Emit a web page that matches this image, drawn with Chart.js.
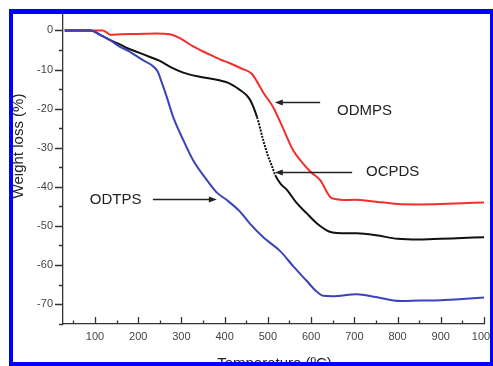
<!DOCTYPE html>
<html>
<head>
<meta charset="utf-8">
<script src="https://cdn.jsdelivr.net/npm/chart.js@4/dist/chart.umd.min.js"></script>
<style>
  html, body { margin: 0; padding: 0; background: #fff; }
  #frame {
    position: absolute; left: 9px; top: 9px;
    width: 477px; height: 348px;
    border-style: solid; border-color: #0000ff;
    border-width: 5px 3px 4px 4px;
    overflow: hidden; background: #fff;
  }
  #chart { position: absolute; left: -13px; top: -14px; }
</style>
</head>
<body>
<div id="frame"><canvas id="chart" width="493" height="366"></canvas></div>
<script>
// temperature (°C) / weight loss (%)
const odmpsT = [30, 60, 90, 118, 128, 135, 160, 200, 240, 273, 300, 327, 360, 389, 412, 440, 462, 470, 490, 512, 535, 558, 581, 600, 621, 644, 660, 674, 700, 750, 800, 850, 900, 950, 1000];
const odmpsW = [0, 0, 0, 0, -0.6, -1.1, -1.0, -0.9, -0.8, -1.0, -2.2, -4.1, -5.9, -7.4, -8.4, -9.8, -11.0, -12.2, -16.0, -19.6, -25.0, -30.6, -34.0, -36.3, -38.3, -42.6, -43.2, -43.4, -43.3, -43.8, -44.4, -44.5, -44.4, -44.2, -44.0];

const ocpdsT = [30, 60, 90, 110, 135, 160, 174, 200, 227, 250, 275, 304, 340, 382, 412, 435, 450, 459, 475, 489, 500, 510, 517, 530, 544, 567, 590, 615, 643, 660, 706, 750, 800, 850, 900, 950, 1000];
const ocpdsW = [0, 0, 0, -1.0, -2.5, -3.7, -4.5, -5.6, -6.8, -7.8, -9.4, -10.8, -11.8, -12.6, -13.6, -15.2, -16.5, -17.8, -22.2, -28.0, -32.0, -34.9, -37.0, -39.3, -40.8, -44.2, -46.8, -49.5, -51.5, -51.8, -51.9, -52.4, -53.3, -53.5, -53.3, -53.1, -52.9];

const odtpsT = [30, 60, 90, 110, 135, 158, 180, 211, 230, 245, 255, 266, 281, 304, 327, 359, 382, 405, 435, 459, 490, 528, 560, 590, 610, 628, 650, 706, 750, 806, 850, 900, 950, 1000];
const odtpsW = [0, 0, 0, -1.0, -2.5, -4.2, -5.4, -7.6, -8.8, -10.5, -13.5, -17.0, -22.2, -28.0, -33.2, -38.3, -41.5, -43.4, -46.3, -49.5, -53.0, -56.4, -60.5, -64.1, -66.5, -67.9, -68.0, -67.5, -68.2, -69.2, -69.1, -69.0, -68.7, -68.3];

const xTicks = [100, 200, 300, 400, 500, 600, 700, 800, 900, 1000];
const yTicks = [0, -10, -20, -30, -40, -50, -60, -70];

// labels with arrows, in data units
const notes = [
  { text: 'ODMPS', x: 660, y: -20.2, from: 621, to: 516, ay: -18.4 },
  { text: 'OCPDS', x: 727, y: -35.8, from: 695, to: 516, ay: -36.2 },
  { text: 'ODTPS', x: 88, y: -43.0, from: 234, to: 382, ay: -43.0 }
];

const pts = (t, w) => t.map((v, i) => ({ x: v, y: w[i] }));
const FONT = '"Liberation Sans", Arial, sans-serif';

const decor = {
  id: 'decor',
  afterDraw(chart) {
    const ctx = chart.ctx;
    const xs = chart.scales.x, ys = chart.scales.y;
    const a = chart.chartArea;
    ctx.save();
    ctx.strokeStyle = '#333';
    ctx.lineWidth = 1.3;
    ctx.beginPath();
    for (let t = 50; t <= 1000; t += 50) {
      const px = Math.round(xs.getPixelForValue(t)) + 0.5;
      const len = t % 100 === 0 ? 7 : 3.5;
      ctx.moveTo(px, a.bottom);
      ctx.lineTo(px, a.bottom - len);
    }
    for (let v = 0; v >= -75; v -= 5) {
      const py = Math.round(ys.getPixelForValue(v)) + 0.5;
      const len = v % 10 === 0 ? 8 : 4;
      ctx.moveTo(a.left, py);
      ctx.lineTo(a.left - len, py);
    }
    ctx.stroke();

    // axis titles
    ctx.fillStyle = '#222';
    ctx.font = '15px ' + FONT;
    ctx.textAlign = 'center';
    ctx.textBaseline = 'alphabetic';
    ctx.fillText('Temperature (ºC)', 274.5, 368);
    ctx.save();
    ctx.translate(22.5, 146);
    ctx.rotate(-Math.PI / 2);
    ctx.fillText('Weight loss (%)', 0, 0);
    ctx.restore();

    // annotations
    ctx.fillStyle = '#222';
    ctx.strokeStyle = '#222';
    ctx.lineWidth = 1.5;
    ctx.textAlign = 'left';
    notes.forEach(n => {
      const tx = xs.getPixelForValue(n.x), ty = ys.getPixelForValue(n.y);
      ctx.fillText(n.text, tx, ty + 5.4);
      const x0 = xs.getPixelForValue(n.from), x1 = xs.getPixelForValue(n.to);
      const y = Math.round(ys.getPixelForValue(n.ay)) + 0.5;
      const dir = x1 > x0 ? 1 : -1;
      ctx.beginPath();
      ctx.moveTo(x0, y);
      ctx.lineTo(x1 - dir * 5, y);
      ctx.stroke();
      ctx.beginPath();
      ctx.moveTo(x1, y);
      ctx.lineTo(x1 - dir * 8, y - 3);
      ctx.lineTo(x1 - dir * 8, y + 3);
      ctx.closePath();
      ctx.fill();
    });
    ctx.restore();
  }
};

new Chart(document.getElementById('chart'), {
  type: 'line',
  data: {
    datasets: [
      {
        label: 'ODTPS', data: pts(odtpsT, odtpsW),
        borderColor: '#3a44b8', borderWidth: 2
      },
      {
        label: 'OCPDS', data: pts(ocpdsT, ocpdsW),
        borderColor: '#111', borderWidth: 2,
        segment: {
          borderDash: c => (c.p0.parsed.x >= 475 && c.p1.parsed.x <= 517) ? [2, 1.2] : undefined
        }
      },
      {
        label: 'ODMPS', data: pts(odmpsT, odmpsW),
        borderColor: '#f22f2f', borderWidth: 2
      }
    ]
  },
  options: {
    responsive: false,
    animation: false,
    events: [],
    elements: {
      point: { radius: 0 },
      line: { cubicInterpolationMode: 'monotone', fill: false }
    },
    layout: { padding: { left: 0, top: 14, right: 9, bottom: 0 } },
    plugins: { legend: { display: false }, tooltip: { enabled: false } },
    scales: {
      x: {
        type: 'linear', min: 26, max: 1000,
        afterBuildTicks: s => { s.ticks = xTicks.map(v => ({ value: v })); },
        afterFit: s => { s.height = 42; s.paddingLeft = 0; s.paddingRight = 0; },
        grid: { display: false, drawTicks: false },
        border: { display: true, color: '#333', width: 1.3 },
        ticks: {
          padding: 6, color: '#444', maxRotation: 0, autoSkip: false,
          font: { family: FONT, size: 11 },
          callback: v => String(v)
        }
      },
      y: {
        type: 'linear', min: -75.1, max: 4.2,
        afterBuildTicks: s => { s.ticks = yTicks.map(v => ({ value: v })); },
        afterFit: s => { s.width = 63; s.paddingTop = 0; s.paddingBottom = 0; },
        grid: { display: false, drawTicks: false },
        border: { display: true, color: '#333', width: 1.3 },
        ticks: {
          padding: 10, color: '#444',
          font: { family: FONT, size: 11 },
          callback: v => String(v)
        }
      }
    }
  },
  plugins: [decor]
});
</script>
</body>
</html>
